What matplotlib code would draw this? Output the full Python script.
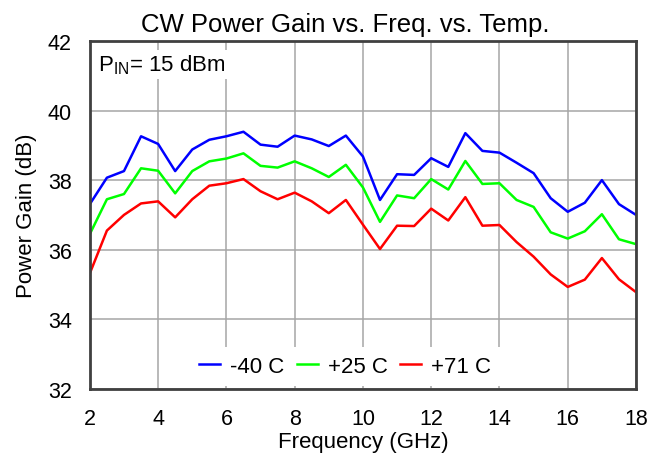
import numpy as np
import matplotlib
matplotlib.use("Agg")
import matplotlib.pyplot as plt

plt.rcParams['font.family'] = ['Liberation Sans', 'DejaVu Sans']

# frequency points, 0.5 GHz steps
freq = np.arange(2.0, 18.01, 0.5)

gain_m40 = [37.31, 38.07, 38.26, 39.26, 39.04, 38.26, 38.88, 39.16, 39.26, 39.39,
            39.02, 38.96, 39.28, 39.17, 38.98, 39.28, 38.68, 37.43, 38.17, 38.15,
            38.63, 38.38, 39.35, 38.84, 38.79, 38.50, 38.20, 37.48, 37.09, 37.35,
            38.00, 37.31, 37.00]
gain_p25 = [36.45, 37.45, 37.60, 38.34, 38.27, 37.62, 38.26, 38.54, 38.62, 38.77,
            38.41, 38.36, 38.54, 38.34, 38.09, 38.44, 37.79, 36.80, 37.56, 37.48,
            38.03, 37.73, 38.55, 37.89, 37.91, 37.43, 37.23, 36.50, 36.32, 36.53,
            37.02, 36.30, 36.16]
gain_p71 = [35.32, 36.55, 37.00, 37.33, 37.39, 36.93, 37.45, 37.84, 37.91, 38.03,
            37.68, 37.45, 37.64, 37.39, 37.05, 37.43, 36.72, 36.02, 36.69, 36.68,
            37.18, 36.84, 37.51, 36.69, 36.71, 36.22, 35.80, 35.29, 34.93, 35.14,
            35.76, 35.15, 34.78]

series = [("-40 C", gain_m40, "#0000ff"),
          ("+25 C", gain_p25, "#00ff00"),
          ("+71 C", gain_p71, "#ff0000")]

fig = plt.figure(figsize=(6.51, 4.56), dpi=100)
ax = fig.add_axes([0.138, 0.145, 0.839, 0.763])

for label, vals, col in series:
    ax.plot(freq, vals, color=col, lw=1.8, label=label)

ax.set_xlim(2, 18)
ax.set_ylim(32, 42)
ax.set_xticks(np.arange(2, 19, 2))
ax.set_yticks(np.arange(32, 43, 2))
ax.grid(True, color="#a6a6a6", lw=1.1)
ax.set_axisbelow(True)
ax.tick_params(length=0, labelsize=15.5)
ax.tick_params(axis="x", pad=14)
ax.tick_params(axis="y", pad=13)
for sp in ax.spines.values():
    sp.set_color("#404040")
    sp.set_linewidth(2)

ax.set_title("CW Power Gain vs. Freq. vs. Temp.", fontsize=18.5, pad=7, x=0.467)
ax.set_xlabel("Frequency (GHz)", fontsize=16, labelpad=1)
ax.set_ylabel("Power Gain (dB)", fontsize=16, labelpad=8)

ax.text(2.25, 41.32, r"P$_{\mathregular{IN}}$= 15 dBm", fontsize=16, va="center", ha="left",
        bbox=dict(facecolor="white", edgecolor="none", pad=2))

leg = ax.legend(loc="lower center", bbox_to_anchor=(0.467, 0.0), ncol=3, fontsize=16,
                frameon=True, handlelength=0.95, columnspacing=0.55, handletextpad=0.45,
                borderaxespad=0.15)
leg.get_frame().set_edgecolor("none")
leg.get_frame().set_facecolor("white")
leg.get_frame().set_alpha(1)
leg.get_frame().set_boxstyle("square", pad=0)

fig.savefig("out.png", dpi=100)
